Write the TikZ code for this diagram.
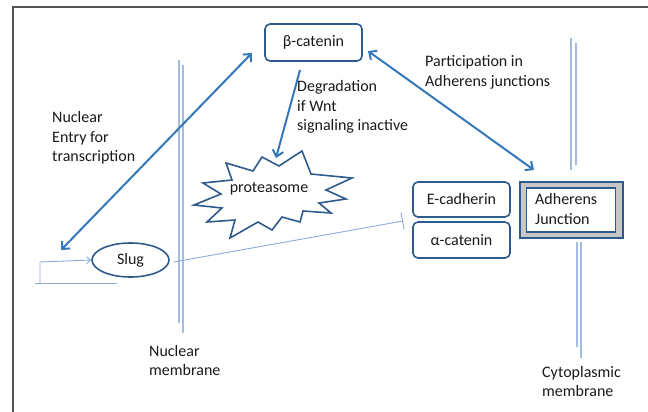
\documentclass[tikz,border=0pt]{standalone}
\usepackage{fontspec}
\setmainfont{Carlito}
\usetikzlibrary{arrows.meta,shapes.geometric}
\definecolor{boxblue}{HTML}{2F5B8C}
\definecolor{arrblue}{HTML}{3478BA}
\definecolor{memblue}{HTML}{A3BDE0}
\definecolor{inhblue}{HTML}{8EAAD6}
\definecolor{txt}{HTML}{1A1A1A}
\definecolor{framegray}{HTML}{555555}
\tikzset{
  every node/.style={font=\fontsize{16}{19.5}\selectfont, text=txt},
  protbox/.style={draw=boxblue, line width=1.6pt, rounded corners=5pt, fill=white, inner sep=0pt},
  label/.style={align=left, anchor=west, inner sep=0pt},
  biarrow/.style={draw=arrblue, line width=2pt, {Straight Barb[length=6pt,width=11pt]}-{Straight Barb[length=6pt,width=11pt]}},
  onearrow/.style={draw=arrblue, line width=2pt, -{Straight Barb[length=6pt,width=11pt]}},
  membrane/.style={draw=memblue, line width=1.1pt},
  thinline/.style={draw=inhblue, line width=0.9pt}
}
\begin{document}
\begin{tikzpicture}[x=1pt,y=-1pt]
\useasboundingbox (0,0) rectangle (648,412);
% frame
\draw[framegray, line width=2pt] (13,412) -- (13,7) -- (648,7);

% membranes
\draw[membrane] (179,60) -- (179,323);
\draw[membrane] (183,65) -- (183,333);
\draw[membrane] (571,38) -- (571,170);
\draw[membrane] (576,43) -- (576,165);
\draw[membrane] (577,242) -- (577,347);
\draw[membrane] (581,242) -- (581,358);

% proteins
\node[protbox, minimum width=97pt, minimum height=37pt] (bcat) at (313.5,42.5) {β-catenin};
\node[protbox, minimum width=97pt, minimum height=35pt] (ecad) at (461.5,199.5) {E-cadherin};
\node[protbox, minimum width=97pt, minimum height=36pt] (acat) at (461.5,240) {α-catenin};
\node[draw=boxblue, line width=1.6pt, fill=black!22, minimum width=103pt, minimum height=56pt] (adhout) at (571.5,210) {};
\node[draw=boxblue, line width=1.4pt, fill=white, minimum width=89pt, minimum height=44pt] (adhin) at (571,210) {};
\node[label] (adh) at (535,209) {Adherens\\Junction};
\node[draw=boxblue, line width=1.6pt, ellipse, minimum width=77pt, minimum height=34pt, inner sep=0pt] (slug) at (130.5,260) {Slug};

% proteasome burst
\draw[draw=boxblue, line width=1.6pt, fill=white, line join=miter]
  (194,205) -- (221,194) -- (203,183) -- (232,180) -- (226,163) -- (253,171) --
  (262,157) -- (279,166) -- (302,151) -- (311,174) -- (352,178) -- (326,190) --
  (346,199) -- (319,203) -- (331,213) -- (303,211) -- (300,222) -- (282,217) --
  (272,230) -- (258,222) -- (230,238) -- (235,220) -- (207,222) -- (222,208) -- cycle;
\node (prot) at (269,189) {proteasome};

% free ends of the connectors
\coordinate (bl) at (252,53);
\coordinate (sl) at (61,250);
\coordinate (br) at (368,51);
\coordinate (aj) at (534,170);
\coordinate (dg) at (300,70);
\coordinate (pt) at (276,158);
\coordinate (inh) at (403,221);
\coordinate (prA) at (40,283);
\coordinate (prB) at (40,262);
\coordinate (bsA) at (35,283);
\coordinate (bsB) at (117,283);

% connectors
\draw[biarrow] (bl) -- (sl);
\draw[biarrow] (br) -- (aj);
\draw[onearrow] (dg) -- (pt);
\draw[thinline, -{Bar[width=17pt]}] (slug.east) ++(4,2) -- (inh);
\draw[thinline, -{Straight Barb[length=4pt,width=7pt]}] (prA) -- (prB) -- (slug.west);
\draw[thinline] (bsA) -- (bsB);

% labels
\node[label] (lnuc) at (52,138) {Nuclear\\Entry for\\transcription};
\node[label] (ldeg) at (297,107) {Degradation\\if Wnt\\signaling inactive};
\node[label] (lpar) at (425,72.5) {Participation in\\Adherens junctions};
\node[label] (lnm) at (149,360.5) {Nuclear\\membrane};
\node[label] (lcm) at (542,381.5) {Cytoplasmic\\membrane};
\end{tikzpicture}
\end{document}
